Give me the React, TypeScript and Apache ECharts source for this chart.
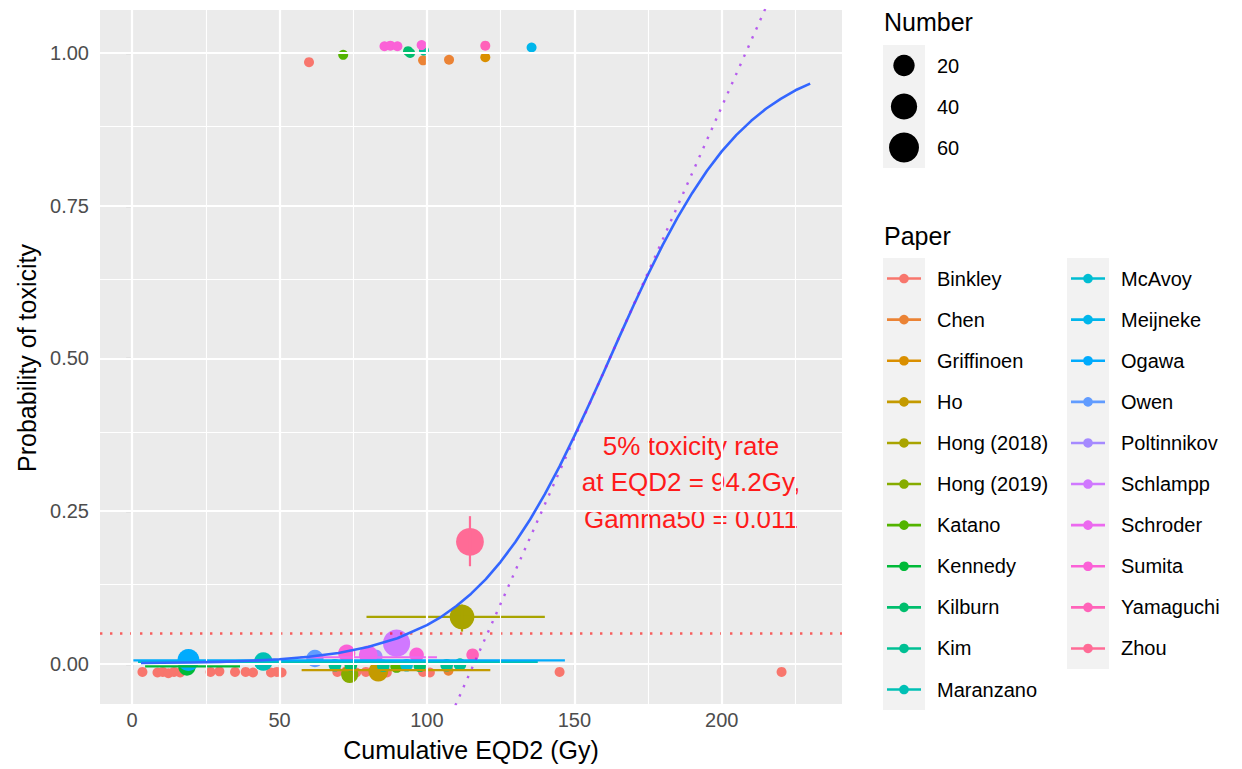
import React, { useEffect, useRef } from "react";
import * as echarts from "echarts";

const papers = [
  "Binkley", "Chen", "Griffinoen", "Ho", "Hong (2018)", "Hong (2019)", "Katano",
  "Kennedy", "Kilburn", "Kim", "Maranzano", "McAvoy", "Meijneke", "Ogawa", "Owen",
  "Poltinnikov", "Schlampp", "Schroder", "Sumita", "Yamaguchi", "Zhou",
];

// [paper, cumulative EQD2 (Gy), observed probability (jittered), number]
const points: [string, number, number, number][] = [
  ["Binkley", 3.5, -0.013, 1], ["Binkley", 8.6, -0.014, 1], ["Binkley", 10.4, -0.013, 1],
  ["Binkley", 12.3, -0.015, 1], ["Binkley", 14.2, -0.013, 1], ["Binkley", 16.3, -0.014, 1],
  ["Binkley", 26.6, -0.013, 1], ["Binkley", 29.6, -0.012, 1], ["Binkley", 34.9, -0.013, 1],
  ["Binkley", 38.5, -0.013, 1], ["Binkley", 41.0, -0.014, 1], ["Binkley", 47.1, -0.014, 1],
  ["Binkley", 49.1, -0.013, 1], ["Binkley", 50.7, -0.014, 1], ["Binkley", 69.6, -0.013, 1],
  ["Binkley", 72.6, -0.012, 1], ["Binkley", 76.0, -0.014, 1], ["Binkley", 79.3, -0.013, 1],
  ["Binkley", 86.4, -0.014, 1], ["Binkley", 98.7, -0.013, 1], ["Binkley", 101.0, -0.014, 1],
  ["Binkley", 145.0, -0.013, 1], ["Binkley", 220.3, -0.013, 1], ["Binkley", 60.0, 0.985, 1],
  ["Chen", 98.7, 0.988, 1], ["Chen", 107.5, 0.989, 1], ["Chen", 107.3, -0.011, 1],
  ["Griffinoen", 119.8, 0.993, 1],
  ["Ho", 83.5, -0.0125, 15],
  ["Hong (2018)", 111.9, 0.077, 33],
  ["Hong (2019)", 73.8, -0.017, 9],
  ["Katano", 71.6, 0.997, 1], ["Katano", 89.7, -0.004, 2],
  ["Kennedy", 18.6, -0.005, 9],
  ["Kilburn", 93.6, 1.003, 1], ["Kilburn", 94.3, 1.0, 1], ["Kilburn", 74.2, -0.002, 2], ["Kilburn", 97.6, -0.003, 2],
  ["Kim", 99.0, 1.004, 1], ["Kim", 68.8, -0.002, 2], ["Kim", 85.2, -0.003, 2], ["Kim", 106.7, -0.002, 2], ["Kim", 111.2, -0.001, 2],
  ["Maranzano", 44.5, 0.004, 12],
  ["McAvoy", 93.1, -0.002, 2],
  ["Meijneke", 135.5, 1.009, 1],
  ["Ogawa", 19.1, 0.0065, 22],
  ["Owen", 62.0, 0.009, 9],
  ["Poltinnikov", 82.5, 0.012, 4],
  ["Schlampp", 89.7, 0.034, 45],
  ["Schroder", 80.1, 0.015, 12],
  ["Sumita", 85.6, 1.011, 1], ["Sumita", 87.6, 1.012, 1], ["Sumita", 90.0, 1.011, 1], ["Sumita", 98.2, 1.013, 1],
  ["Sumita", 72.8, 0.0175, 9], ["Sumita", 96.5, 0.015, 4],
  ["Yamaguchi", 119.8, 1.012, 1], ["Yamaguchi", 115.5, 0.015, 2],
  ["Zhou", 114.6, 0.2, 48],
];

// horizontal ranges: [paper, xmin, xmax, y]
const hRanges: [string, number, number, number][] = [
  ["Kennedy", 4.4, 36.6, -0.004],
  ["Maranzano", 2.0, 137.6, 0.003],
  ["Ogawa", 0.4, 146.8, 0.006],
  ["Ho", 57.5, 121.5, -0.01],
  ["Hong (2018)", 79.5, 140.0, 0.077],
  ["Schroder", 57.0, 103.4, 0.011],
];

// vertical ranges: [paper, x, ymin, ymax]
const vRanges: [string, number, number, number][] = [
  ["Zhou", 114.6, 0.16, 0.242],
  ["Hong (2018)", 111.9, 0.053, 0.097],
];

// fitted dose-response curve
const curveDose = [3, 10, 20, 30, 40, 50, 60, 70, 80, 90, 100, 105, 110, 115, 120, 125, 130, 135, 140, 145, 150, 155, 160, 165, 170, 175, 180, 185, 190, 195, 200, 205, 210, 215, 220, 225, 230];
const curveProb = [0.0015, 0.002, 0.0025, 0.0035, 0.0052, 0.0078, 0.0118, 0.0181, 0.0277, 0.0421, 0.0635, 0.0777, 0.0948, 0.1151, 0.139, 0.1672, 0.1996, 0.2365, 0.278, 0.3234, 0.373, 0.4246, 0.478, 0.5325, 0.586, 0.6374, 0.686, 0.7307, 0.771, 0.8073, 0.839, 0.866, 0.889, 0.9088, 0.925, 0.939, 0.95];

// tangent line at D50 (dotted purple)
const tangentDose = [100, 220];
const tangentProb = [-0.1727, 1.129];

const thresholdProb = 0.05;

const xTicks = [0, 50, 100, 150, 200];
const xMinor = [25, 75, 125, 175, 225];
const yTicks = [0, 0.25, 0.5, 0.75, 1];
const yMinor = [0.125, 0.375, 0.625, 0.875];
const sizeBreaks = [20, 40, 60];

const annotation = "5% toxicity rate\nat EQD2 = 94.2Gy,\nGamma50 = 0.011";

const FONT = '"Liberation Sans", Arial, Helvetica, sans-serif';

function hcl(h: number, c = 100, l = 65): string {
  const hr = (h * Math.PI) / 180;
  const U = c * Math.cos(hr);
  const V = c * Math.sin(hr);
  const Xn = 95.047, Yn = 100, Zn = 108.883;
  const Y = Yn * (l > 8 ? Math.pow((l + 16) / 116, 3) : l / 903.3);
  const den = Xn + 15 * Yn + 3 * Zn;
  const un = (4 * Xn) / den;
  const vn = (9 * Yn) / den;
  const u = U / (13 * l) + un;
  const v = V / (13 * l) + vn;
  const X = (Y * 9 * u) / (4 * v);
  const Z = (Y * (12 - 3 * u - 20 * v)) / (4 * v);
  const x = X / 100, y = Y / 100, z = Z / 100;
  const r = 3.240479 * x - 1.53715 * y - 0.498535 * z;
  const g = -0.969256 * x + 1.875992 * y + 0.041556 * z;
  const b = 0.055648 * x - 0.204043 * y + 1.057311 * z;
  const gam = (t: number) => {
    const s = t <= 0.0031308 ? 12.92 * t : 1.055 * Math.pow(t, 1 / 2.4) - 0.055;
    return Math.round(Math.max(0, Math.min(1, s)) * 255);
  };
  return "#" + [r, g, b].map(gam).map((q) => q.toString(16).padStart(2, "0")).join("");
}

const colors = papers.map((_, i) => hcl(15 + (360 * i) / papers.length));
const colorOf = (p: string) => colors[papers.indexOf(p)];
const sizeOf = (n: number) => 10 + 2.6 * Math.sqrt(Math.max(0, n - 1));

export default function App() {
  const ref = useRef<HTMLDivElement>(null);
  useEffect(() => {
    if (!ref.current) return;
    const chart = echarts.init(ref.current, undefined, { renderer: "svg" });

    const series: any[] = [];
    const gridLineData: any[] = [
      ...xMinor.map((v) => ({ xAxis: v, lineStyle: { color: "#FFFFFF", width: 1.1, type: "solid" } })),
      ...yMinor.map((v) => ({ yAxis: v, lineStyle: { color: "#FFFFFF", width: 1.1, type: "solid" } })),
      ...xTicks.map((v) => ({ xAxis: v, lineStyle: { color: "#FFFFFF", width: 2.2, type: "solid" } })),
      ...yTicks.map((v) => ({ yAxis: v, lineStyle: { color: "#FFFFFF", width: 2.2, type: "solid" } })),
    ];
    series.push({
      type: "line",
      data: [],
      silent: true,
      z: 1,
      markLine: {
        silent: true,
        symbol: ["none", "none"],
        label: { show: false },
        emphasis: { disabled: true },
        data: gridLineData,
      },
    });

    papers.forEach((p, i) => {
      const data = points.filter((r) => r[0] === p).map((r) => [r[1], r[2], r[3]]);
      series.push({
        type: "scatter",
        name: p,
        data,
        symbol: "circle",
        symbolSize: (v: number[]) => sizeOf(v[2]),
        itemStyle: { color: colors[i], opacity: 1 },
        z: 2,
        silent: true,
      });
    });

    hRanges.forEach(([p, x0, x1, y]) => {
      series.push({
        type: "line",
        data: [[x0, y], [x1, y]],
        symbol: "none",
        lineStyle: { color: colorOf(p), width: 2.2 },
        z: 3,
        silent: true,
      });
    });
    vRanges.forEach(([p, x, y0, y1]) => {
      series.push({
        type: "line",
        data: [[x, y0], [x, y1]],
        symbol: "none",
        lineStyle: { color: colorOf(p), width: 2.2 },
        z: 3,
        silent: true,
      });
    });

    series.push({
      type: "line",
      data: [[-10.9, thresholdProb], [240.8, thresholdProb]],
      symbol: "none",
      lineStyle: { color: "#FF0000", opacity: 0.6, width: 2.4, type: [2.4, 7.6] },
      z: 4,
      silent: true,
    });

    series.push({
      type: "line",
      data: curveDose.map((d, i) => [d, curveProb[i]]),
      symbol: "none",
      smooth: false,
      lineStyle: { color: "#3366FF", width: 2.6, join: "round" },
      z: 5,
      silent: true,
    });

    series.push({
      type: "line",
      data: tangentDose.map((d, i) => [d, tangentProb[i]]),
      symbol: "none",
      clip: true,
      lineStyle: { color: "#A020F0", opacity: 0.7, width: 2.4, type: [2.4, 7.6] },
      z: 5,
      silent: true,
    });

    const graphics: any[] = [];
    graphics.push({
      type: "text", x: 471, y: 750,
      style: { text: "Cumulative EQD2 (Gy)", fill: "#000", fontSize: 25, fontFamily: FONT, textAlign: "center", textVerticalAlign: "middle", align: "center", verticalAlign: "middle" },
    });
    graphics.push({
      type: "text", x: 27, y: 358, rotation: Math.PI / 2,
      style: { text: "Probability of toxicity", fill: "#000", fontSize: 25, fontFamily: FONT, textAlign: "center", textVerticalAlign: "middle", align: "center", verticalAlign: "middle" },
    });
    graphics.push({
      type: "text", x: 691, y: 482,
      style: { text: annotation, fill: "#FF1A1A", fontSize: 26, fontFamily: FONT, lineHeight: 36.5, textAlign: "center", textVerticalAlign: "middle", align: "center", verticalAlign: "middle" },
    });

    graphics.push({
      type: "text", x: 884, y: 22,
      style: { text: "Number", fill: "#000", fontSize: 25, fontFamily: FONT, textVerticalAlign: "middle", verticalAlign: "middle" },
    });
    graphics.push({ type: "rect", shape: { x: 883, y: 45, width: 42, height: 123 }, style: { fill: "#F2F2F2" } });
    sizeBreaks.forEach((n, i) => {
      const cy = 45 + 41 * (i + 0.5);
      graphics.push({ type: "circle", shape: { cx: 904, cy, r: sizeOf(n) / 2 }, style: { fill: "#000" } });
      graphics.push({
        type: "text", x: 937, y: cy,
        style: { text: String(n), fill: "#000", fontSize: 20, fontFamily: FONT, textVerticalAlign: "middle", verticalAlign: "middle" },
      });
    });

    graphics.push({
      type: "text", x: 884, y: 236,
      style: { text: "Paper", fill: "#000", fontSize: 25, fontFamily: FONT, textVerticalAlign: "middle", verticalAlign: "middle" },
    });
    const rowH = 41.1;
    const perCol = 11;
    const colX = [883, 1067];
    colX.forEach((kx, c) => {
      const count = Math.min(perCol, papers.length - c * perCol);
      graphics.push({ type: "rect", shape: { x: kx, y: 258, width: 42, height: rowH * count }, style: { fill: "#F2F2F2" } });
    });
    papers.forEach((p, i) => {
      const c = Math.floor(i / perCol);
      const r = i % perCol;
      const kx = colX[c];
      const cy = 258 + rowH * (r + 0.5);
      graphics.push({ type: "line", shape: { x1: kx + 4, y1: cy, x2: kx + 38, y2: cy }, style: { stroke: colors[i], lineWidth: 2.6 } });
      graphics.push({ type: "circle", shape: { cx: kx + 21, cy, r: 4.8 }, style: { fill: colors[i] } });
      graphics.push({
        type: "text", x: kx + 54, y: cy,
        style: { text: p, fill: "#000", fontSize: 20, fontFamily: FONT, textVerticalAlign: "middle", verticalAlign: "middle" },
      });
    });

    chart.setOption({
      animation: false,
      backgroundColor: "#FFFFFF",
      grid: {
        left: 100, top: 10, width: 742, height: 694,
        show: true, backgroundColor: "#EBEBEB", borderWidth: 0,
        containLabel: false, outerBoundsMode: "none",
      },
      xAxis: {
        type: "value", min: -10.9, max: 240.8,
        splitLine: { show: false },
        axisLine: { show: false },
        axisTick: { show: true, length: 6, lineStyle: { color: "#333333", width: 1.1 }, customValues: xTicks },
        axisLabel: { customValues: xTicks, color: "#4D4D4D", fontSize: 20, fontFamily: FONT, margin: 6 },
      },
      yAxis: {
        type: "value", min: -0.0655, max: 1.0704,
        splitLine: { show: false },
        axisLine: { show: false },
        axisTick: { show: true, length: 6, lineStyle: { color: "#333333", width: 1.1 }, customValues: yTicks },
        axisLabel: { customValues: yTicks, color: "#4D4D4D", fontSize: 20, fontFamily: FONT, margin: 11, formatter: (v: number) => v.toFixed(2) },
      },
      series,
      graphic: { elements: graphics },
    });

    return () => chart.dispose();
  }, []);

  return (
    <div
      ref={ref}
      style={{ position: "absolute", left: 0, top: 0, width: 1242, height: 769, background: "#fff" }}
    />
  );
}
